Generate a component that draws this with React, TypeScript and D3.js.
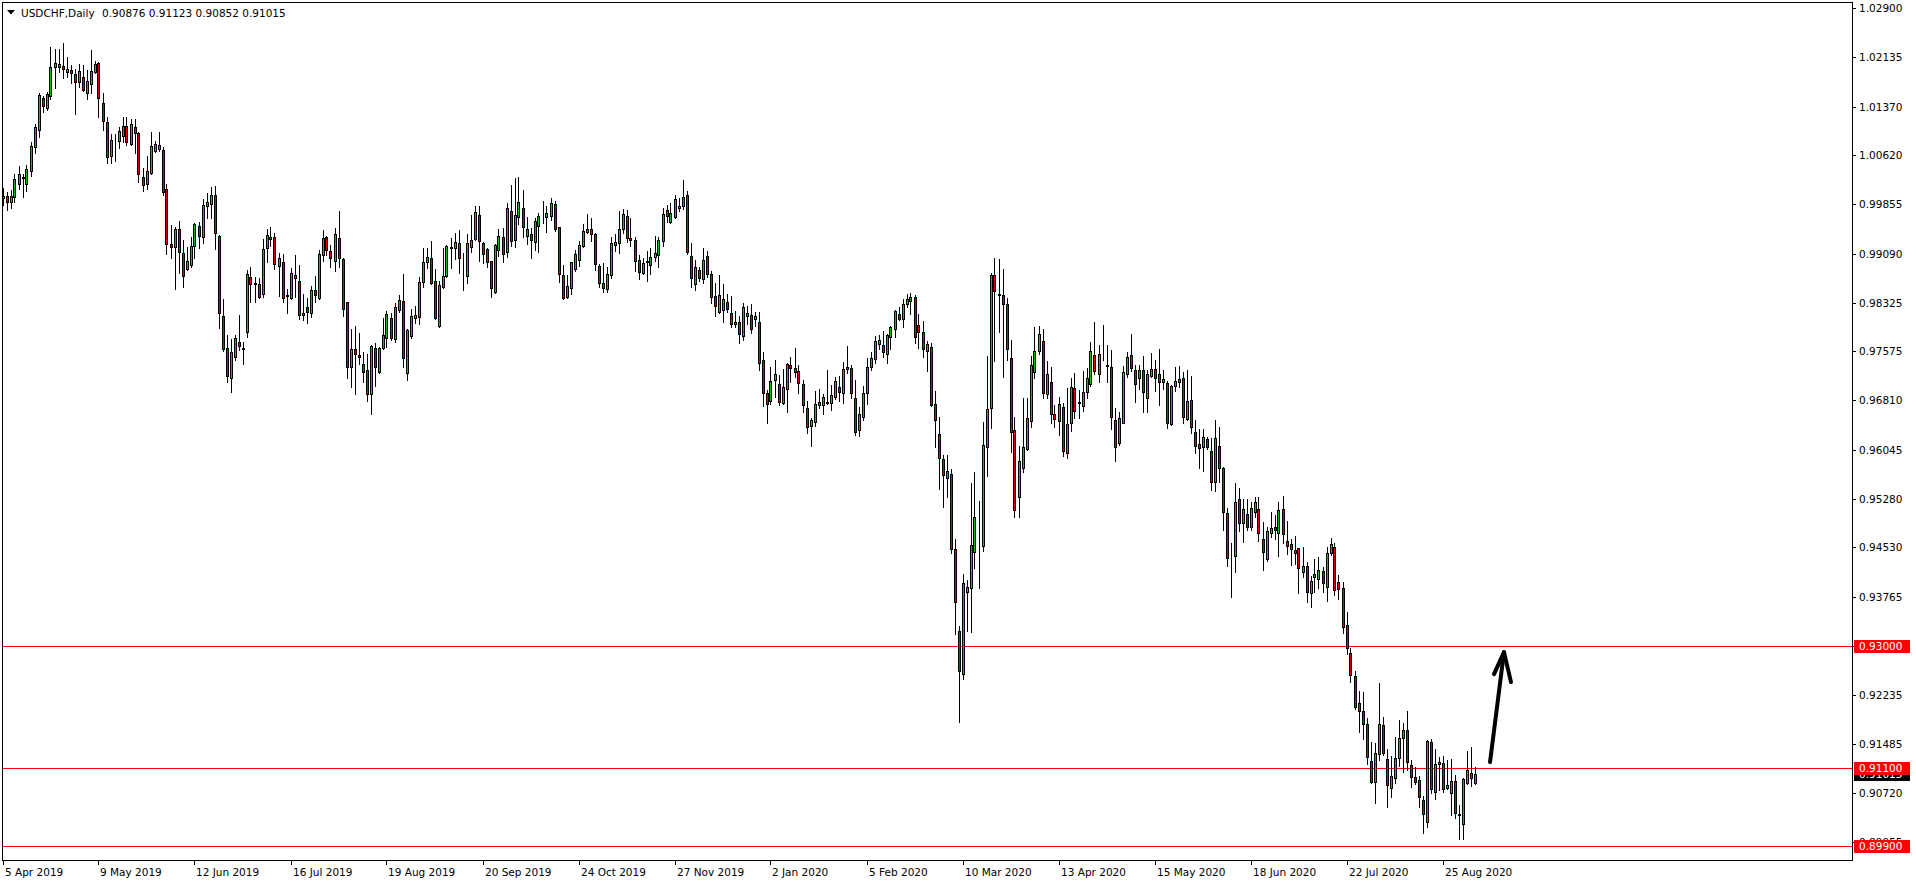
import React from 'react';
import * as d3 from 'd3';

const symbolTitle = 'USDCHF,Daily';
const headerValues = ['0.90876', '0.91123', '0.90852', '0.91015'];

const xTickLabels = ['5 Apr 2019', '9 May 2019', '12 Jun 2019', '16 Jul 2019', '19 Aug 2019', '20 Sep 2019', '24 Oct 2019', '27 Nov 2019', '2 Jan 2020', '5 Feb 2020', '10 Mar 2020', '13 Apr 2020', '15 May 2020', '18 Jun 2020', '22 Jul 2020', '25 Aug 2020'];
const barsPerLabel = 24;

const yTicks = [1.029, 1.02135, 1.0137, 1.0062, 0.99855, 0.9909, 0.98325, 0.97575, 0.9681, 0.96045, 0.9528, 0.9453, 0.93765, 0.93, 0.92235, 0.91485, 0.9072, 0.89955];
const levelLines = [0.93, 0.911, 0.899];

const open = [
0.99948,0.99984,0.99886,0.99964,1.00171,1.00279,1.00165,1.00377,1.00750,1.01008,
1.01499,1.01354,1.01541,1.01990,1.01990,1.02001,1.01913,1.01939,1.01871,1.01758,
1.01835,1.01587,1.01716,1.01913,1.02042,1.01422,1.01127,1.00605,1.00853,1.00843,
1.00915,1.01070,1.00786,1.01060,1.00956,1.00274,1.00165,1.00346,1.00687,1.00708,
1.00698,1.00093,0.99240,0.99199,0.99467,0.99095,0.98857,0.98909,0.99209,0.99519,
0.99343,0.99834,0.99860,1.00000,0.99364,0.98123,0.97622,0.97156,0.97482,0.97715,
0.97622,0.97880,0.98721,0.98633,0.98617,0.98467,0.99171,0.99310,0.99346,0.98902,
0.98959,0.98441,0.98405,0.98757,0.98659,0.98131,0.98255,0.98162,0.98519,0.98395,
0.99062,0.99346,0.99124,0.98979,0.99326,0.98999,0.98333,0.97325,0.97604,0.97511,
0.97371,0.97278,0.96906,0.97625,0.97247,0.97620,0.97775,0.98085,0.97759,0.98214,
0.98354,0.97232,0.97806,0.98095,0.98111,0.98643,0.98953,0.99015,0.98659,0.97971,
0.98566,0.98747,0.99171,0.99171,0.99258,0.99010,0.98736,0.99186,0.99310,0.99682,
0.99248,0.99155,0.98969,0.98498,0.99145,0.99347,0.99109,0.99755,0.99295,0.99662,
0.99791,0.99362,0.99393,0.99264,0.99517,0.99662,0.99652,0.99667,0.99859,0.99497,
0.98752,0.98421,0.98551,0.98856,0.98990,0.99202,0.99424,0.99466,0.99388,0.98897,
0.98628,0.98535,0.98763,0.99218,0.99249,0.99466,0.99667,0.99326,0.99300,0.98990,
0.98783,0.98969,0.98918,0.99042,0.99063,0.99280,0.99760,0.99574,0.99662,0.99802,
0.99833,0.99998,0.99052,0.98613,0.98835,0.98690,0.99052,0.98768,0.98432,0.98178,
0.98215,0.98344,0.98163,0.97992,0.98028,0.97811,0.98126,0.98131,0.98079,0.98027,
0.97438,0.96921,0.96807,0.97128,0.97061,0.96766,0.96988,0.97360,0.97314,0.97262,
0.97061,0.96688,0.96414,0.96471,0.96740,0.96740,0.96781,0.96766,0.96869,0.97019,
0.96921,0.97293,0.97319,0.96843,0.96347,0.96559,0.96921,0.97335,0.97448,0.97691,
0.97671,0.97526,0.97790,0.97924,0.98146,0.98069,0.98307,0.98353,0.98410,0.97976,
0.97867,0.97583,0.97640,0.96750,0.96285,0.95897,0.95603,0.95665,0.94501,0.93235,
0.92563,0.93845,0.93897,0.94455,0.94558,0.94558,0.96094,0.96699,0.98756,0.98462,
0.98450,0.98300,0.97463,0.96352,0.95308,0.95757,0.96052,0.96497,0.97246,0.97582,
0.97732,0.96905,0.97096,0.96595,0.96491,0.96703,0.95990,0.96455,0.96998,0.96781,
0.96729,0.96936,0.97060,0.97510,0.97215,0.97474,0.97355,0.97324,0.96507,0.96155,
0.96466,0.97215,0.97510,0.97282,0.97153,0.97277,0.96843,0.97189,0.97293,0.97215,
0.97101,0.97076,0.96445,0.97034,0.97101,0.97153,0.96522,0.96817,0.96316,0.96130,
0.96083,0.96207,0.96026,0.95540,0.96104,0.95757,0.95059,0.94403,0.94403,0.95276,
0.94904,0.95042,0.94851,0.95074,0.95120,0.94655,0.94350,0.94748,0.94841,0.94748,
0.95120,0.94624,0.94577,0.94489,0.94515,0.94153,0.94241,0.93817,0.94076,0.94034,
0.94164,0.93921,0.94438,0.94531,0.93993,0.93895,0.93326,0.92887,0.92535,0.92111,
0.91997,0.91785,0.91217,0.90896,0.91325,0.91775,0.91243,0.90793,0.90948,0.91258,
0.91568,0.91698,0.91155,0.90974,0.90922,0.90612,0.90276,0.91506,0.90741,0.91170,
0.91181,0.90793,0.90726,0.90906,0.90400,0.90234,0.90881,0.91025,0.90876
];

const high = [
1.00103,1.00041,1.00077,1.00320,1.00450,1.00326,1.00465,1.00817,1.01096,1.01587,
1.01541,1.01603,1.02300,1.02259,1.02259,1.02352,1.02145,1.02016,1.01949,1.02032,
1.02016,1.01939,1.02249,1.02078,1.02068,1.01577,1.01205,1.00946,1.00946,1.01060,
1.01205,1.01205,1.01179,1.01173,1.00982,1.00414,1.00605,1.00982,1.00837,1.00977,
1.00750,1.00171,0.99535,0.99509,0.99597,0.99302,0.99199,0.99354,0.99571,0.99586,
0.99933,1.00026,1.00129,1.00139,0.99379,0.98382,0.97829,0.97761,0.97829,0.98139,
0.97725,0.98837,0.98886,0.98731,0.98705,0.99315,0.99470,0.99501,0.99403,0.99093,
0.99077,0.98535,0.98860,0.99067,0.98912,0.98462,0.98395,0.98586,0.98741,0.99145,
0.99450,0.99367,0.99222,0.99491,0.99750,0.99015,0.98343,0.97919,0.97966,0.97863,
0.97557,0.97532,0.97671,0.97697,0.97645,0.98085,0.98199,0.98162,0.98317,0.98447,
0.98772,0.97914,0.98230,0.98276,0.98731,0.99171,0.99171,0.99284,0.98845,0.98664,
0.99181,0.99222,0.99326,0.99414,0.99450,0.99093,0.99393,0.99688,0.99822,0.99822,
0.99274,0.99181,0.98974,0.99238,0.99466,0.99481,0.99879,1.00153,1.00257,1.00272,
1.00076,0.99652,0.99481,0.99636,0.99724,0.99905,0.99828,0.99952,0.99905,0.99507,
0.98913,0.98757,0.98964,0.99145,0.99290,0.99548,0.99704,0.99636,0.99404,0.98928,
0.98949,0.98876,0.99352,0.99393,0.99750,0.99781,0.99766,0.99647,0.99352,0.99063,
0.99026,0.99130,0.99171,0.99362,0.99352,0.99802,0.99843,0.99869,0.99998,0.99947,
1.00231,1.00065,0.99249,0.98990,0.98887,0.99171,0.99130,0.98819,0.98628,0.98757,
0.98613,0.98463,0.98432,0.98204,0.98122,0.98328,0.98275,0.98306,0.98188,0.98182,
0.97562,0.96973,0.97335,0.97438,0.97205,0.97298,0.97386,0.97479,0.97624,0.97360,
0.97128,0.96802,0.96533,0.96962,0.96993,0.96905,0.97283,0.97050,0.97179,0.97190,
0.97407,0.97655,0.97360,0.97128,0.96714,0.97035,0.97474,0.97567,0.97810,0.97826,
0.97888,0.97841,0.97965,0.98213,0.98260,0.98384,0.98456,0.98482,0.98446,0.98146,
0.98043,0.97733,0.97696,0.96957,0.96559,0.95964,0.95964,0.95747,0.94662,0.93317,
0.94119,0.94026,0.95525,0.95706,0.95256,0.96482,0.97500,0.98782,0.99015,0.99000,
0.98850,0.98400,0.97748,0.96548,0.96104,0.96843,0.96843,0.97500,0.97954,0.97965,
0.97918,0.97422,0.97324,0.96740,0.96858,0.96776,0.96998,0.97153,0.97231,0.96972,
0.97267,0.97308,0.97712,0.98022,0.97670,0.97980,0.97670,0.97593,0.96688,0.96636,
0.97344,0.97567,0.97836,0.97360,0.97360,0.97500,0.97282,0.97541,0.97438,0.97608,
0.97282,0.97112,0.97050,0.97334,0.97350,0.97257,0.97282,0.97195,0.96507,0.96367,
0.96362,0.96248,0.96223,0.96507,0.96404,0.95783,0.95137,0.94594,0.95525,0.95457,
0.95276,0.95275,0.95239,0.95317,0.95306,0.94929,0.94851,0.95074,0.95032,0.95239,
0.95327,0.94939,0.94655,0.94706,0.94525,0.94541,0.94308,0.94086,0.94345,0.94386,
0.94231,0.94541,0.94670,0.94603,0.94102,0.93993,0.93533,0.92964,0.92613,0.92308,
0.92292,0.91878,0.91517,0.91491,0.92421,0.91894,0.91398,0.91294,0.91594,0.91853,
0.91801,0.91992,0.91232,0.91118,0.90984,0.90674,0.91543,0.91553,0.91398,0.91284,
0.91294,0.91232,0.91243,0.90999,0.90534,0.90948,0.91377,0.91439,0.91123
];

const low = [
0.99845,0.99767,0.99793,0.99896,1.00093,0.99964,1.00067,1.00295,1.00656,1.00905,
1.01292,1.01318,1.01489,1.01665,1.01913,1.01820,1.01835,1.01732,1.01251,1.01680,
1.01613,1.01489,1.01587,1.01887,1.01215,1.01008,1.00491,1.00491,1.00532,1.00724,
1.00822,1.00775,1.00775,1.00646,1.00207,1.00067,1.00088,1.00326,1.00672,1.00687,
1.00000,0.99085,0.99018,0.98537,0.98785,0.98578,0.98837,0.98888,0.99018,0.99173,
0.99250,0.99648,0.99638,0.99157,0.97932,0.97570,0.97089,0.96934,0.97441,0.97586,
0.97373,0.97792,0.98343,0.98333,0.98405,0.98421,0.98964,0.99212,0.98855,0.98436,
0.98343,0.98162,0.98385,0.98421,0.98075,0.98059,0.98018,0.98111,0.98343,0.98385,
0.98974,0.99067,0.98886,0.98824,0.98876,0.98126,0.97154,0.97025,0.96916,0.97371,
0.97092,0.96808,0.96596,0.97040,0.97232,0.97609,0.97645,0.97749,0.97723,0.98188,
0.97335,0.97123,0.97785,0.98007,0.97992,0.98576,0.98871,0.98617,0.98069,0.97956,
0.98550,0.98731,0.98871,0.99005,0.98793,0.98524,0.98638,0.99119,0.99295,0.98979,
0.98948,0.98886,0.98421,0.98473,0.99052,0.98964,0.99031,0.99207,0.99197,0.99548,
0.99352,0.99238,0.99021,0.99145,0.99119,0.99559,0.99430,0.99610,0.99440,0.98654,
0.98380,0.98406,0.98463,0.98825,0.98902,0.99187,0.99414,0.99290,0.98835,0.98577,
0.98489,0.98499,0.98716,0.99135,0.99094,0.99414,0.99274,0.99212,0.98825,0.98690,
0.98773,0.98670,0.98773,0.98980,0.98887,0.99212,0.99585,0.99559,0.99647,0.99755,
0.99786,0.99088,0.98566,0.98525,0.98664,0.98639,0.98732,0.98328,0.98127,0.98163,
0.98034,0.98189,0.97946,0.97946,0.97698,0.97749,0.97996,0.97852,0.97965,0.97283,
0.96730,0.96456,0.96755,0.96869,0.96740,0.96750,0.96637,0.97102,0.97180,0.96931,
0.96637,0.96301,0.96109,0.96419,0.96688,0.96595,0.96755,0.96662,0.96828,0.96807,
0.96776,0.97242,0.96843,0.96275,0.96264,0.96507,0.96755,0.97283,0.97386,0.97614,
0.97490,0.97397,0.97603,0.97800,0.98058,0.97955,0.98255,0.98146,0.97697,0.97619,
0.97490,0.97273,0.96730,0.96094,0.95432,0.95153,0.95318,0.94450,0.93188,0.91828,
0.92485,0.93240,0.93214,0.94217,0.93907,0.94481,0.95644,0.96378,0.97426,0.97877,
0.97179,0.97438,0.96016,0.94997,0.95008,0.95706,0.96042,0.96404,0.97164,0.97531,
0.96843,0.96853,0.96466,0.96393,0.96274,0.95954,0.95912,0.96342,0.96533,0.96543,
0.96652,0.96843,0.97039,0.97220,0.97101,0.97438,0.97101,0.96367,0.95876,0.96119,
0.96455,0.97179,0.97267,0.96791,0.96988,0.96636,0.96636,0.97179,0.96957,0.96740,
0.96983,0.96378,0.96429,0.96962,0.97014,0.96455,0.96507,0.96300,0.96000,0.95768,
0.95721,0.96052,0.95421,0.95411,0.95540,0.94801,0.94242,0.93757,0.94155,0.94790,
0.94620,0.94799,0.94799,0.95006,0.94634,0.94179,0.94324,0.94696,0.94660,0.94401,
0.94603,0.94427,0.94257,0.94272,0.93828,0.94076,0.93688,0.93610,0.93843,0.93895,
0.93833,0.93703,0.94412,0.93791,0.93729,0.93207,0.92871,0.92447,0.92023,0.91661,
0.91553,0.91170,0.90881,0.90570,0.91232,0.91310,0.90508,0.90664,0.90870,0.91139,
0.91051,0.91077,0.90819,0.90860,0.90508,0.90105,0.90198,0.90726,0.90622,0.90767,
0.90741,0.90777,0.90379,0.90338,0.90002,0.90002,0.90855,0.90829,0.90852
];

const close = [
0.99990,0.99886,0.99984,1.00243,1.00320,1.00269,1.00398,1.00760,1.01049,1.01546,
1.01385,1.01561,1.01980,1.02042,1.02032,1.01949,1.01949,1.01897,1.01758,1.01918,
1.01628,1.01768,1.01918,1.02027,1.01499,1.01153,1.00594,1.00853,1.00848,1.00992,
1.01075,1.00827,1.01096,1.00956,1.00320,1.00155,1.00372,1.00760,1.00786,1.00775,
1.00052,0.99235,0.99199,0.99467,0.99121,0.98749,0.98976,0.99214,0.99545,0.99369,
0.99845,0.99886,1.00000,0.99405,0.98165,0.97606,0.97182,0.97555,0.97777,0.97648,
0.97612,0.98769,0.98612,0.98623,0.98421,0.99155,0.99372,0.99346,0.98933,0.99015,
0.98395,0.98431,0.98783,0.98716,0.98137,0.98168,0.98188,0.98519,0.98447,0.99077,
0.99326,0.99150,0.99015,0.99388,0.99015,0.98224,0.97325,0.97604,0.97526,0.97480,
0.97247,0.96906,0.97651,0.97335,0.97620,0.97821,0.98147,0.97775,0.98255,0.98364,
0.97475,0.97904,0.98116,0.98131,0.98643,0.98959,0.99031,0.98628,0.98095,0.98602,
0.98741,0.99207,0.99191,0.99264,0.99026,0.98999,0.99248,0.99295,0.99739,0.99289,
0.99077,0.98964,0.98550,0.99222,0.99362,0.99078,0.99791,0.99290,0.99688,0.99885,
0.99507,0.99466,0.99305,0.99595,0.99673,0.99652,0.99719,0.99869,0.99476,0.98768,
0.98396,0.98582,0.98954,0.99083,0.99223,0.99440,0.99466,0.99388,0.98923,0.98628,
0.98551,0.98768,0.99254,0.99269,0.99466,0.99704,0.99326,0.99305,0.98980,0.98799,
0.98938,0.98959,0.99031,0.99094,0.99300,0.99704,0.99667,0.99724,0.99931,0.99828,
0.99962,0.99119,0.98706,0.98882,0.98706,0.98990,0.98768,0.98421,0.98277,0.98447,
0.98385,0.98230,0.97992,0.98028,0.97837,0.98266,0.98167,0.97914,0.98120,0.97397,
0.96921,0.96750,0.97112,0.97221,0.96781,0.97019,0.97376,0.97309,0.97257,0.97076,
0.96735,0.96394,0.96507,0.96750,0.96781,0.96864,0.96771,0.96890,0.97112,0.96947,
0.97298,0.97335,0.96931,0.96326,0.96595,0.96921,0.97324,0.97464,0.97733,0.97748,
0.97567,0.97821,0.97945,0.98193,0.98069,0.98307,0.98379,0.98415,0.97800,0.97877,
0.97603,0.97681,0.96740,0.96507,0.95923,0.95649,0.95711,0.94512,0.93679,0.92619,
0.93974,0.93912,0.94569,0.94998,0.94548,0.96120,0.96673,0.98756,0.98508,0.98451,
0.98300,0.97603,0.96316,0.95111,0.95871,0.96093,0.96533,0.97355,0.97572,0.97836,
0.96931,0.97215,0.96605,0.96517,0.96750,0.96031,0.96440,0.97014,0.96652,0.96771,
0.96936,0.97153,0.97582,0.97262,0.97525,0.97463,0.97344,0.96548,0.96093,0.96533,
0.97246,0.97479,0.97308,0.97065,0.97277,0.96936,0.97215,0.97293,0.97153,0.97101,
0.97143,0.96466,0.97034,0.97112,0.97143,0.96548,0.96802,0.96404,0.96109,0.96078,
0.96238,0.96093,0.95540,0.96223,0.95757,0.95075,0.94361,0.94392,0.95230,0.94904,
0.95121,0.94851,0.95136,0.95229,0.94748,0.94463,0.94784,0.94825,0.94799,0.95110,
0.94732,0.94557,0.94505,0.94448,0.94205,0.94241,0.93833,0.94008,0.94117,0.94179,
0.93983,0.94438,0.94582,0.93869,0.93879,0.93300,0.92964,0.92551,0.92059,0.91992,
0.91785,0.91284,0.90896,0.91336,0.91785,0.91336,0.90844,0.90984,0.91258,0.91568,
0.91698,0.91206,0.90963,0.90896,0.90653,0.90390,0.91527,0.90777,0.91165,0.91196,
0.90777,0.90844,0.90901,0.90416,0.90374,0.90932,0.91077,0.90948,0.91015
];

// Hand-drawn arrow annotation in data space (bar index, price)
const arrowShaft = [[371.75, 0.91198], [375.25, 0.92905]];
const arrowHead = [[372.75, 0.92564], [375.25, 0.92905], [377.0, 0.92440]];

const W = 1916;
const H = 884;
const FONT = '"DejaVu Sans", Verdana, sans-serif';
const FS = 10.5;
const GREEN = '#22b322';
const RED = '#e00000';

export default function App() {
  const frameL = 2, frameT = 2, frameR = 1852, frameB = 860;
  const x = d3.scaleLinear().domain([0, 462.5]).range([3, 1853]);
  const y = d3.scaleLinear().domain([0.93, 1.029]).range([646, 8]);
  const n = Math.min(open.length, high.length, low.length, close.length);
  const idx = d3.range(n);
  const line = d3.line<number[]>().x(d => x(d[0])).y(d => y(d[1]));
  const lastClose = close[n - 1];

  const labelBox = (v: number, bg: string, key: string) => {
    const yy = Math.round(y(v));
    return (
      <g key={key}>
        <rect x={frameR + 2} y={yy - 6} width={56} height={13} fill={bg} />
        <text x={frameR + 7} y={yy + 4} fill="#ffffff" fontFamily={FONT} fontSize={FS}>{v.toFixed(5)}</text>
      </g>
    );
  };

  return (
    <div style={{ position: 'absolute', left: 0, top: 0, width: W, height: H, background: '#fff' }}>
      <svg width={W} height={H} style={{ display: 'block' }}>
        <rect x={0} y={0} width={W} height={H} fill="#ffffff" />
        <g shapeRendering="crispEdges">
          {levelLines.map((v, k) => {
            const yy = Math.round(y(v)) + 0.5;
            return <line key={'lv' + k} x1={frameL} x2={frameR} y1={yy} y2={yy} stroke="#ff0000" strokeWidth={1} />;
          })}
          {idx.map(i => {
            const c = Math.floor(x(i));
            const o = open[i], cl = close[i];
            const yT = Math.round(y(Math.max(o, cl)));
            const yB = Math.round(y(Math.min(o, cl)));
            const yH = Math.round(y(high[i]));
            const yL = Math.round(y(low[i]));
            return (
              <g key={'c' + i}>
                <line x1={c + 0.5} x2={c + 0.5} y1={yH} y2={yL + 1} stroke="#000" strokeWidth={1} />
                <rect x={c - 0.5} y={yT + 0.5} width={2} height={Math.max(0, yB - yT)} fill={cl >= o ? GREEN : RED} stroke="#000" strokeWidth={1} />
              </g>
            );
          })}
          <rect x={frameL + 0.5} y={frameT + 0.5} width={frameR - frameL} height={frameB - frameT} fill="none" stroke="#000" strokeWidth={1} />
          {yTicks.map((v, k) => {
            const yy = Math.round(y(v));
            return <line key={'yt' + k} x1={frameR} x2={frameR + 4} y1={yy + 0.5} y2={yy + 0.5} stroke="#000" />;
          })}
          {xTickLabels.map((lab, k) => {
            const c = Math.floor(x(k * barsPerLabel));
            return <line key={'xt' + k} x1={c + 0.5} x2={c + 0.5} y1={frameB + 1} y2={frameB + 5} stroke="#000" />;
          })}
        </g>
        {yTicks.map((v, k) => (
          <text key={'yl' + k} x={frameR + 7} y={Math.round(y(v)) + 4} fill="#000" fontFamily={FONT} fontSize={FS}>{v.toFixed(5)}</text>
        ))}
        {xTickLabels.map((lab, k) => (
          <text key={'xl' + k} x={Math.floor(x(k * barsPerLabel)) + 2} y={frameB + 16} fill="#000" fontFamily={FONT} fontSize={FS}>{lab}</text>
        ))}
        {labelBox(lastClose, '#000000', 'closeLbl')}
        {levelLines.map((v, k) => labelBox(v, '#ff0000', 'lvl' + k))}
        <path d={line(arrowShaft as any) || ''} fill="none" stroke="#000" strokeWidth={4} strokeLinecap="round" strokeLinejoin="round" />
        <path d={line(arrowHead as any) || ''} fill="none" stroke="#000" strokeWidth={4} strokeLinecap="round" strokeLinejoin="round" />
        <polygon points="7,10 15,10 11,14.5" fill="#000" />
        <text x={21} y={16.5} fill="#000" fontFamily={FONT} fontSize={FS}>{symbolTitle}</text>
        <text x={102} y={16.5} fill="#000" fontFamily={FONT} fontSize={FS}>{headerValues.join(' ')}</text>
      </svg>
    </div>
  );
}
